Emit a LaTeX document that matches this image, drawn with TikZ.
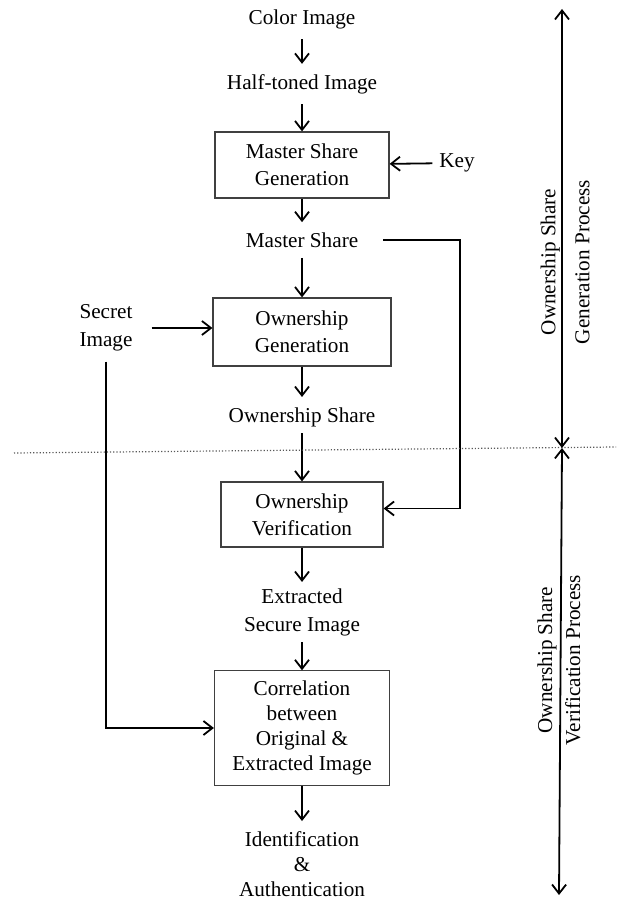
\documentclass[tikz,border=0pt]{standalone}
\usepackage{fontspec}
\setmainfont{Liberation Serif}
\usetikzlibrary{arrows.meta}

\tikzset{
	txt/.style={align=center, inner ysep=5pt, font=\fontsize{10.6}{14}\selectfont},
	proc/.style={txt, draw=black!75, line width=0.6pt},
	flow/.style={-{Straight Barb[length=4.5pt,width=7pt]}, line width=0.9pt},
	both/.style={{Straight Barb[length=4.5pt,width=7pt]}-{Straight Barb[length=4.5pt,width=7pt]}, line width=0.9pt},
	sep/.style={densely dotted, line width=0.6pt, black!65}
}

\begin{document}
\begin{tikzpicture}[x=0.5pt, y=-0.5pt]
			\useasboundingbox (0,0) rectangle (616,898);
			% generation part
			\node[txt] (color) at (302,19) {Color Image};
			\node[txt] (half) at (302,84) {Half-toned Image};
			\node[proc, minimum width=87pt, minimum height=33pt, font=\fontsize{10.6}{13.5}\selectfont] (msg) at (302,165) {Master Share\\Generation};
			\node[txt] (key) at (457,163) {Key};
			\node[txt] (ms) at (302,240) {Master Share};
			\node[proc, minimum width=89pt, minimum height=34pt, font=\fontsize{10.6}{13.5}\selectfont] (og) at (302,332) {Ownership\\Generation};
			\node[txt] (secret) at (106,328) {Secret\\Image};
			\node[txt] (os) at (302,417) {Ownership Share};
			% verification part
			\node[proc, minimum width=81pt, minimum height=32.5pt, font=\fontsize{10.6}{13.5}\selectfont] (ov) at (302,514.5) {Ownership\\Verification};
			\node[txt, inner ysep=3pt] (ext) at (302,612) {Extracted\\Secure Image};
			\node[proc, minimum width=87.5pt, minimum height=57pt, font=\fontsize{10.6}{12.5}\selectfont] (corr) at (302,728) {Correlation\\between\\Original \&\\Extracted Image};
			\node[txt, font=\fontsize{10.6}{12.5}\selectfont] (ident) at (302,864) {Identification\\\&\\Authentication};

			\draw[flow] (color) -- (half);
			\draw[flow] (half) -- (msg);
			\draw[flow] (key) -- (msg);
			\draw[flow] (msg) -- (ms);
			\draw[flow] (ms) -- (og);
			\draw[flow, shorten <=6pt] (secret.east) -- (og.west |- secret.east);
			\draw[flow] (og) -- (os);
			\draw[flow, shorten <=-2pt] (os) -- (ov);
			\draw[flow] (ov) -- (ext);
			\draw[flow] (ext) -- (corr);
			\draw[flow] (corr) -- (ident);
			\coordinate (bend) at (460,240);
			\draw[flow, shorten <=9pt] (ms.east) -- (bend) |- ([yshift=3pt]ov.east);
			\draw[flow] (secret.south) |- (corr.west);

			% separation and process ranges
			\coordinate (dl) at (14,453);
			\coordinate (dr) at (616,447);
			\draw[sep] (dl) -- (dr);
			\coordinate (gtop) at (562,9);
			\coordinate (gmid) at (562,448);
			\coordinate (vbot) at (559,895);
			\draw[both] (gtop) -- (gmid);
			\draw[both] (gmid) -- (vbot);
			\node[txt, rotate=90, font=\fontsize{10.6}{17}\selectfont] (genlbl) at (565,262) {Ownership Share\\Generation Process};
			\node[txt, rotate=90] (verlbl) at (559,660) {Ownership Share\\Verification Process};
		\end{tikzpicture}
\end{document}
